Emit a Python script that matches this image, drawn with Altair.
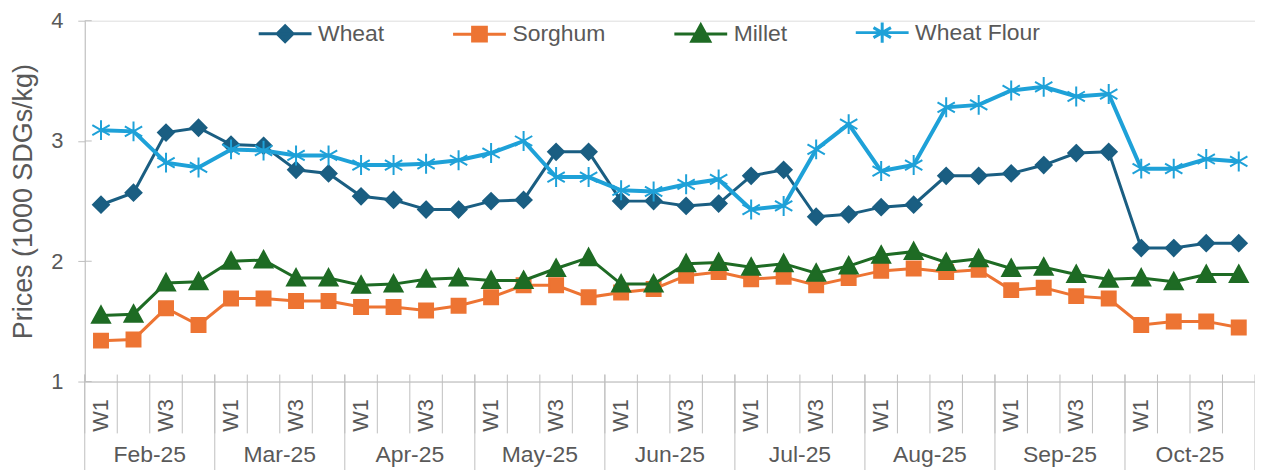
import altair as alt
import pandas as pd

months = ["Feb-25", "Mar-25", "Apr-25", "May-25", "Jun-25", "Jul-25", "Aug-25", "Sep-25", "Oct-25"]
weeks = ["W1", "W2", "W3", "W4"]
week_ticklabels = ["W1", "", "W3", ""]

series = ["Wheat", "Sorghum", "Millet", "Wheat Flour"]
wheat = [2.47, 2.57, 3.07, 3.11, 2.97, 2.96, 2.76, 2.73, 2.54, 2.51, 2.43, 2.43,
         2.50, 2.51, 2.91, 2.91, 2.50, 2.50, 2.46, 2.48, 2.71, 2.76, 2.37, 2.39,
         2.45, 2.47, 2.71, 2.71, 2.73, 2.80, 2.90, 2.91, 2.11, 2.11, 2.15, 2.15]
sorghum = [1.34, 1.35, 1.61, 1.47, 1.69, 1.69, 1.67, 1.67, 1.62, 1.62, 1.59, 1.63,
           1.70, 1.80, 1.80, 1.70, 1.74, 1.77, 1.88, 1.91, 1.85, 1.87, 1.80, 1.86,
           1.92, 1.94, 1.91, 1.93, 1.76, 1.78, 1.71, 1.69, 1.47, 1.50, 1.50, 1.45]
millet = [1.55, 1.56, 1.82, 1.83, 2.00, 2.01, 1.86, 1.86, 1.80, 1.81, 1.85, 1.86,
          1.84, 1.84, 1.94, 2.03, 1.81, 1.81, 1.98, 1.99, 1.95, 1.98, 1.90, 1.96,
          2.05, 2.08, 1.99, 2.02, 1.94, 1.95, 1.89, 1.85, 1.86, 1.83, 1.89, 1.89]
wheat_flour = [3.09, 3.08, 2.82, 2.78, 2.93, 2.92, 2.88, 2.88, 2.80, 2.80, 2.81, 2.84,
               2.90, 3.00, 2.70, 2.70, 2.59, 2.58, 2.64, 2.68, 2.43, 2.46, 2.93, 3.14,
               2.75, 2.80, 3.28, 3.30, 3.42, 3.45, 3.37, 3.39, 2.77, 2.77, 2.85, 2.83]
y_ticks = [1, 2, 3, 4]

colors = ["#1a5e82", "#ed7433", "#1e6b24", "#1ea1d8"]
line_widths = [3, 3, 3, 4]
# marker paths (unit size) and legend symbols (line + marker)
marker_paths = [
    "M0,-0.8L0.8,0L0,0.8L-0.8,0Z",
    "M-0.7,-0.7H0.7V0.7H-0.7Z",
    "M0,-0.9L0.9,0.75L-0.9,0.75Z",
    "M0,-1V1M-0.87,-0.5L0.87,0.5M-0.87,0.5L0.87,-0.5",
]
legend_paths = [
    "M-1,0H1M0,-0.3L0.3,0L0,0.3L-0.3,0Z",
    "M-1,0H1M-0.26,-0.26H0.26V0.26H-0.26Z",
    "M-1,0H1M0,-0.34L0.34,0.28L-0.34,0.28Z",
    "M-1,0H1M0,-0.38V0.38M-0.33,-0.19L0.33,0.19M-0.33,0.19L0.33,-0.19",
]

FONT = "Liberation Sans"
GRAY = "#bfbfbf"
TXT = "#595959"

keys = [f"{m}|{w}" for m in months for w in weeks]
values = {"Wheat": wheat, "Sorghum": sorghum, "Millet": millet, "Wheat Flour": wheat_flour}
rows = []
for s in series:
    for k, v in zip(keys, values[s]):
        rows.append({"key": k, "series": s, "price": v})
df = pd.DataFrame(rows)

# label expression built from tick label list
expr_parts = []
for w, lab in zip(weeks, week_ticklabels):
    expr_parts.append(f"split(datum.value,'|')[1] == '{w}' ? '{lab}'")
label_expr = " : ".join(expr_parts) + " : ''"

xscale = alt.Scale(type="band", domain=keys, paddingInner=0, paddingOuter=0)
yscale = alt.Scale(domain=[1, 4], nice=False, zero=False)

ax_x = alt.Axis(title=None, labelExpr=label_expr, labelAngle=270, labelFontSize=22,
                labelColor=TXT, labelFont=FONT, labelPadding=17, ticks=False,
                domainColor=GRAY, domainWidth=1, grid=False, labelOverlap=False)
ax_y = alt.Axis(title="Prices (1000 SDGs/kg)", values=y_ticks, format="d", grid=False,
                labelFontSize=22, labelColor=TXT, labelFont=FONT, labelPadding=15,
                tickSize=7, tickColor=GRAY, domainColor=GRAY, domainWidth=1,
                titleFontSize=27, titleFont=FONT, titleColor=TXT, titleFontWeight="normal",
                titlePadding=13)

AX = 362  # plot height


def X(bp=0.5):
    return alt.X("key:N", scale=xscale, bandPosition=bp, axis=ax_x)


layers = []
for s, c, lw, mp in zip(series, colors, line_widths, marker_paths):
    base = alt.Chart(df).transform_filter(alt.datum.series == s)
    layers.append(base.mark_line(color=c, strokeWidth=lw).encode(
        x=X(), y=alt.Y("price:Q", scale=yscale, axis=ax_y)))
    layers.append(base.mark_point(shape=mp, size=400, filled=True, color=c, stroke=c,
                                  strokeWidth=2, opacity=1).encode(
        x=X(), y=alt.Y("price:Q", scale=yscale, axis=ax_y)))

# x-axis separators
df_weeks = pd.DataFrame({"key": keys})
df_mstart = pd.DataFrame({"key": [f"{m}|{weeks[0]}" for m in months]})
df_mend = pd.DataFrame({"key": [keys[-1]]})
df_mlab = pd.DataFrame({"key": [f"{m}|{weeks[1]}" for m in months], "month": months})

layers.append(alt.Chart(df_weeks).mark_rule(color=GRAY, strokeWidth=1).encode(
    x=X(0), y=alt.value(AX - 7), y2=alt.value(AX + 52)))
layers.append(alt.Chart(df_mstart).mark_rule(color=GRAY, strokeWidth=1).encode(
    x=X(0), y=alt.value(AX - 7), y2=alt.value(AX + 105)))
layers.append(alt.Chart(df_mend).mark_rule(color=GRAY, strokeWidth=1).encode(
    x=X(1), y=alt.value(AX - 7), y2=alt.value(AX + 105)))
layers.append(alt.Chart(df_mlab).mark_text(fontSize=23, font=FONT, color=TXT,
                                           baseline="alphabetic", align="center").encode(
    x=X(1), y=alt.value(AX + 81), text="month:N"))

# inner part of y ticks
df_yt = pd.DataFrame({"price": y_ticks})
layers.append(alt.Chart(df_yt).mark_rule(color=GRAY, strokeWidth=1).encode(
    y=alt.Y("price:Q", scale=yscale, axis=ax_y), x=alt.value(0), x2=alt.value(7)))

# legend (hidden marks, clipped away)
leg = alt.Legend(title=None, orient="none", legendX=173, legendY=-16.5, direction="horizontal",
                 symbolSize=2809, symbolStrokeWidth=3, labelFontSize=23, labelFont=FONT,
                 labelColor=TXT, labelOffset=5, columnPadding=62, padding=0, symbolOpacity=1)
df_leg = pd.DataFrame({"series": series})
layers.append(alt.Chart(df_leg).mark_point(opacity=1, clip=True, size=2809).encode(
    x=alt.value(0), y=alt.value(-200),
    fill=alt.Fill("series:N", scale=alt.Scale(domain=series, range=colors), legend=leg),
    stroke=alt.Stroke("series:N", scale=alt.Scale(domain=series, range=colors), legend=leg),
    shape=alt.Shape("series:N", scale=alt.Scale(domain=series, range=legend_paths), legend=leg),
))

chart = alt.layer(*layers).properties(
    width=1174, height=AX,
    autosize=alt.AutoSizeParams(type="none"),
    padding={"left": 77, "top": 12, "right": 0, "bottom": 88},
).configure_view(stroke=None).configure(font=FONT)

chart.save("out.html", embed_options={"renderer": "svg", "actions": False})
